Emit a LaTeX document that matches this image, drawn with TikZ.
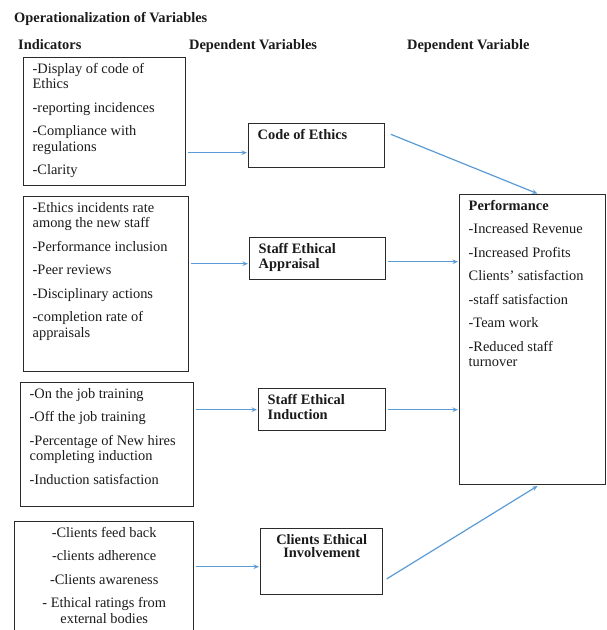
\documentclass[tikz,border=0pt]{standalone}
\usepackage{fontspec}
\setmainfont{Liberation Serif}
\usepackage{tikz}
\usetikzlibrary{positioning, arrows.meta, calc}
\definecolor{arrBlue}{HTML}{5B9BD5}
\definecolor{boxLine}{HTML}{2B2B2B}
\definecolor{bodyText}{HTML}{1A1A1A}
% fixed-size text block, text at the top
\newcommand{\topleft}[3]{\parbox[c][#2][t]{#1}{\raggedright #3}}
\newcommand{\topcenter}[3]{\parbox[c][#2][t]{#1}{\centering #3}}

\begin{document}
\begin{tikzpicture}[x=1pt, y=1pt,
    indbox/.style={rectangle, draw=boxLine, line width=1.4pt, anchor=north west,
                   inner xsep=9pt, inner ysep=5.5pt, text=bodyText,
                   font=\fontsize{14.4}{15.5}\selectfont},
    varbox/.style={indbox, font=\fontsize{14.4}{15.5}\selectfont\bfseries},
    arr/.style={-{Stealth[length=5.5pt, width=4.5pt]}, arrBlue, line width=1.2pt,
                shorten <=1.5pt, shorten >=1pt},
    sectlabel/.style={anchor=base west, inner sep=0pt, text=bodyText,
                      font=\fontsize{14.4}{15.5}\selectfont\bfseries},
  ]
  \clip (0,0) rectangle (606,-630);

  % title + column heads
  \node[sectlabel] (title) at (14,-22) {Operationalization of Variables};
  \node[sectlabel] (hind) at (18,-49) {Indicators};
  \node[sectlabel] (hdep) at (189,-49) {Dependent Variables};
  \node[sectlabel] (hdv) at (407,-49) {Dependent Variable};

  % indicators
  \node[indbox] (ind1) at (23,-57) {\topleft{144pt}{117pt}{-Display of code of\\Ethics\\[8pt]-reporting incidences\\[8pt]-Compliance with\\regulations\\[8pt]-Clarity}};
  \node[indbox] (ind2) at (23,-196) {\topleft{147pt}{164pt}{-Ethics incidents rate\\among the new staff\\[8pt]-Performance inclusion\\[8pt]-Peer reviews\\[8pt]-Disciplinary actions\\[8pt]-completion rate of\\appraisals}};
  \node[indbox] (ind3) at (20,-382) {\topleft{155pt}{113pt}{-On the job training\\[8pt]-Off the job training\\[8pt]-Percentage of New hires\\completing induction\\[8pt]-Induction satisfaction}};
  \node[indbox] (ind4) at (14,-521) {\topcenter{161pt}{108pt}{-Clients feed back\\[8pt]-clients adherence\\[8pt]-Clients awareness\\[8pt]- Ethical ratings from\\external bodies}};

  % dependent variables
  \node[varbox] (coe) at (248,-123) {\topleft{118pt}{33pt}{Code of Ethics}};
  \node[varbox] (sea) at (249,-237) {\topleft{118pt}{31pt}{Staff Ethical\\Appraisal}};
  \node[varbox] (sei) at (258,-388) {\topleft{109pt}{31pt}{Staff Ethical\\Induction}};
  \node[varbox] (cei) at (260,-528) {\topcenter{104pt}{55pt}{Clients Ethical\\[-2pt]Involvement}};

  % dependent variable
  \node[indbox] (perf) at (459,-194) {\topleft{127.5pt}{279pt}{\textbf{Performance}\\[8pt]-Increased Revenue\\[8pt]-Increased Profits\\[8pt]Clients’ satisfaction\\[8pt]-staff satisfaction\\[8pt]-Team work\\[8pt]-Reduced staff\\turnover}};

  % arrows
  \coordinate (coein) at ($(coe.west)+(0,-7)$);
  \coordinate (seain) at ($(sea.west)+(0,-5)$);
  \coordinate (seaout) at ($(sea.east)+(0,-3)$);
  \coordinate (ceiin) at ($(cei.west)+(0,-5)$);
  \draw[arr] (ind1.east |- coein) -- (coein);
  \draw[arr] ($(coe.east)+(4,12)$) -- ($(perf.north)+(6,0)$);
  \draw[arr] (ind2.east |- seain) -- (seain);
  \draw[arr] (seaout) -- (perf.west |- seaout);
  \draw[arr] (ind3.east |- sei.west) -- (sei.west);
  \draw[arr] (sei.east) -- (perf.west |- sei.east);
  \draw[arr] (ind4.east |- ceiin) -- (ceiin);
  \draw[arr] ($(cei.east)+(2,-18)$) -- ($(perf.south)+(6,0)$);

\end{tikzpicture}
\end{document}
